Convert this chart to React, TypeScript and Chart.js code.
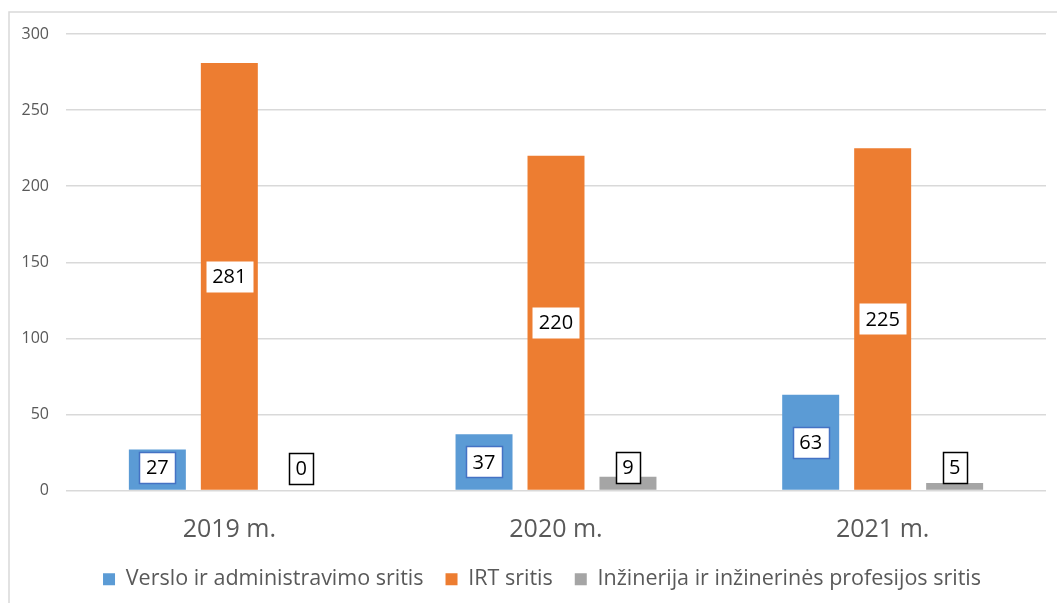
import React, { useEffect, useRef } from "react";
import { Chart, registerables } from "chart.js";

Chart.register(...registerables);

const categories = ["2019 m.", "2020 m.", "2021 m."];
const seriesNames = [
  "Verslo ir administravimo sritis",
  "IRT sritis",
  "Inžinerija ir inžinerinės profesijos sritis",
];
const versloValues = [27, 37, 63];
const irtValues = [281, 220, 225];
const inzinerijaValues = [0, 9, 5];
const yTicks = [0, 50, 100, 150, 200, 250, 300];

const FONT = '"Open Sans", "DejaVu Sans", sans-serif';
const labelBorders = ["#4472C4", null, "#000000"];

const framePlugin = {
  id: "frame",
  beforeDraw(chart: any) {
    const ctx = chart.ctx;
    ctx.save();
    ctx.fillStyle = "#ffffff";
    ctx.fillRect(0, 0, chart.width, chart.height);
    ctx.strokeStyle = "#d9d9d9";
    ctx.lineWidth = 1.5;
    ctx.beginPath();
    ctx.moveTo(9, chart.height);
    ctx.lineTo(9, 12);
    ctx.lineTo(chart.width, 12);
    ctx.stroke();
    ctx.restore();
  },
};

const legendShiftPlugin = {
  id: "legendShift",
  afterLayout(chart: any) {
    const lg = chart.legend;
    if (lg) {
      lg.left = 38;
      lg.right = 1046;
      lg.width = lg.right - lg.left;
    }
  },
};

const boxLabelPlugin = {
  id: "boxLabels",
  afterDatasetsDraw(chart: any) {
    const ctx = chart.ctx;
    ctx.save();
    ctx.font = `20px ${FONT}`;
    ctx.textAlign = "center";
    ctx.textBaseline = "middle";
    chart.data.datasets.forEach((ds: any, i: number) => {
      const meta = chart.getDatasetMeta(i);
      meta.data.forEach((bar: any, j: number) => {
        const { x, y, base } = bar.getProps(["x", "y", "base"], true);
        const text = String(ds.data[j]);
        const tw = ctx.measureText(text).width;
        const w = Math.round(tw + 13);
        const h = 31;
        const cy = Math.min((y + base) / 2, base - 22);
        const left = Math.round(x - w / 2) + 0.5;
        const top = Math.round(cy - h / 2) + 0.5;
        ctx.fillStyle = "#ffffff";
        ctx.fillRect(left, top, w, h);
        const bc = labelBorders[i];
        if (bc) {
          ctx.strokeStyle = bc;
          ctx.lineWidth = 1.5;
          ctx.strokeRect(left, top, w, h);
        }
        ctx.fillStyle = "#000000";
        ctx.fillText(text, x, cy + 1);
      });
    });
    ctx.restore();
  },
};

export default function App() {
  const canvasRef = useRef<HTMLCanvasElement | null>(null);

  useEffect(() => {
    if (!canvasRef.current) return;
    const chart = new Chart(canvasRef.current, {
      type: "bar",
      data: {
        labels: categories,
        datasets: [
          {
            label: seriesNames[0],
            data: versloValues,
            backgroundColor: "#5B9BD5",
            borderWidth: 0,
          },
          {
            label: seriesNames[1],
            data: irtValues,
            backgroundColor: "#ED7D31",
            borderWidth: 0,
          },
          {
            label: seriesNames[2],
            data: inzinerijaValues,
            backgroundColor: "#A5A5A5",
            borderWidth: 0,
          },
        ],
      },
      options: {
        responsive: false,
        animation: false,
        layout: { padding: { left: 0, right: 11, top: 34, bottom: 3 } },
        datasets: {
          bar: { categoryPercentage: 0.661, barPercentage: 0.7917 },
        },
        scales: {
          x: {
            grid: { display: false, drawTicks: false },
            border: { display: false },
            ticks: {
              color: "#595959",
              font: { family: FONT, size: 25 },
              padding: 24,
            },
            afterFit: (s: any) => {
              s.height = 56;
            },
          },
          y: {
            min: 0,
            max: 300,
            afterBuildTicks: (s: any) => {
              s.ticks = yTicks.map((v) => ({ value: v }));
            },
            grid: { color: "#d9d9d9", lineWidth: 1.5, drawTicks: false },
            border: { display: false },
            ticks: {
              color: "#595959",
              font: { family: FONT, size: 16 },
              padding: 17,
            },
            afterFit: (s: any) => {
              s.width = 66;
            },
          },
        },
        plugins: {
          legend: {
            position: "bottom",
            labels: {
              color: "#595959",
              font: { family: FONT, size: 21.5 },
              boxWidth: 12,
              boxHeight: 12,
              padding: 22,
            },
          },
          tooltip: { enabled: false },
        },
      },
      plugins: [framePlugin, legendShiftPlugin, boxLabelPlugin],
    });
    return () => chart.destroy();
  }, []);

  return (
    <canvas
      ref={canvasRef}
      width={1057}
      height={603}
      style={{ position: "fixed", left: 0, top: 0, width: 1057, height: 603 }}
    />
  );
}
